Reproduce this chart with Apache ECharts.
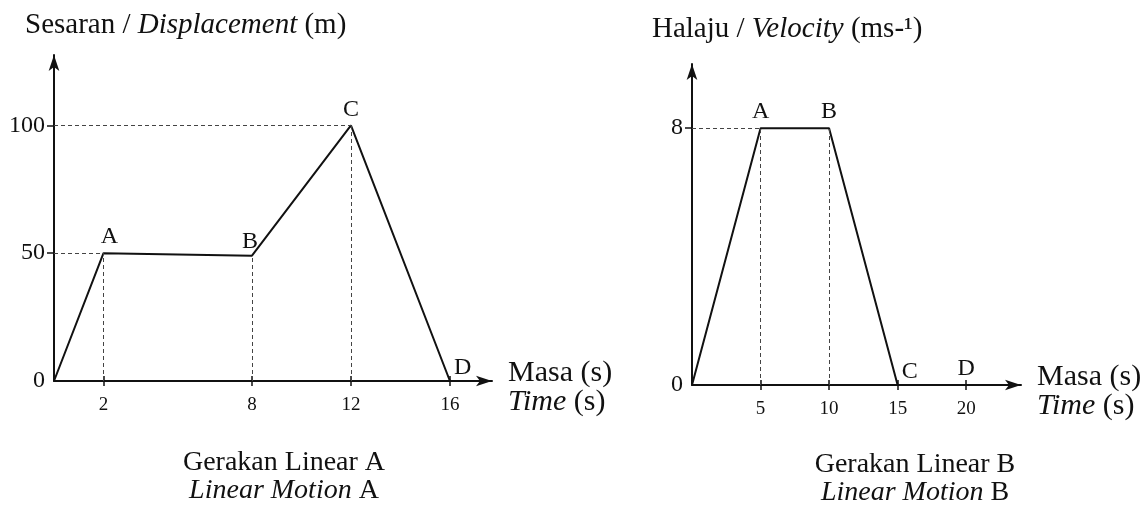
<!DOCTYPE html>
<html>
<head>
<meta charset="utf-8">
<script src="https://cdn.jsdelivr.net/npm/echarts@6/dist/echarts.min.js"></script>
<style>
  html, body { margin: 0; padding: 0; background: #fff; }
  #main { width: 1146px; height: 510px; }
</style>
</head>
<body>
<div id="main"></div>
<script>
// 图A：位移-时间
var timeA = [0, 2, 8, 12, 16];
var dispA = [0, 50, 49, 100, 0];
var pointNamesA = ['', 'A', 'B', 'C', 'D'];
var xTicksA = [2, 8, 12, 16];
var yTicksA = [0, 50, 100];
// 虚线：哪些点画水平线 / 竖线
var hGuideA = [1, 3];
var vGuideA = [1, 2, 3];

// 图B：速度-时间
var timeB = [0, 5, 10, 15, 20];
var veloB = [0, 8, 8, 0, 0];
var pointNamesB = ['', 'A', 'B', 'C', 'D'];
var xTicksB = [5, 10, 15, 20];
var yTicksB = [0, 8];
var hGuideB = [1];
var vGuideB = [1, 2];

(function() {
  var FONT = "'Liberation Serif', 'DejaVu Serif', serif";
  var INK = "#111";

  // 字母标签位置
  var labelPosA = {
    A: { position: "top", offset: [6, 0] },
    B: { position: "top", offset: [-2, 2] },
    C: { position: "top", offset: [0, 0] },
    D: { position: "right", offset: [0, -13] }
  };
  var labelPosB = {
    A: { position: "top", offset: [0, 0] },
    B: { position: "top", offset: [0, 0] },
    C: { position: "right", offset: [0, -13] },
    D: { position: "top", offset: [0, 0] }
  };

  function richSet(size, lh) {
    return {
      n: { fontFamily: FONT, fontSize: size, fontWeight: "normal", color: INK, lineHeight: lh },
      i: { fontFamily: FONT, fontSize: size, fontWeight: "normal", color: INK, lineHeight: lh, fontStyle: "italic" }
    };
  }
  var nameRich = richSet(30, 29);
  var capRich = richSet(28, 28);
  var titleRich = richSet(29, 32);

  function pairs(xs, ys) {
    return xs.map(function(x, i) { return [x, ys[i]]; });
  }

  function guides(xs, ys, hIdx, vIdx) {
    var lines = [];
    hIdx.forEach(function(i) {
      lines.push([{ coord: [0, ys[i]] }, { coord: [xs[i], ys[i]] }]);
    });
    vIdx.forEach(function(i) {
      lines.push([{ coord: [xs[i], 0] }, { coord: [xs[i], ys[i]] }]);
    });
    return lines;
  }

  function pointLabels(xs, ys, names, pos, idx) {
    var data = [];
    names.forEach(function(n, i) {
      if (!n) return;
      data.push({ value: [xs[i], ys[i]], name: n, label: pos[n] });
    });
    return {
      type: "scatter",
      xAxisIndex: idx,
      yAxisIndex: idx,
      symbolSize: 0,
      silent: true,
      itemStyle: { color: INK, opacity: 1 },
      label: {
        show: true, formatter: "{b}", fontFamily: FONT, fontSize: 24, fontWeight: "normal",
        color: INK, textBorderWidth: 0, opacity: 1, distance: 4
      },
      data: data,
      z: 5
    };
  }

  function xAxis(grid, max, ticks) {
    return {
      type: "value",
      gridIndex: grid,
      min: 0,
      max: max,
      position: "bottom",
      splitLine: { show: false },
      axisLine: {
        show: true, onZero: false,
        symbol: ["none", "arrow"], symbolSize: [8, 16],
        lineStyle: { color: INK, width: 2 }
      },
      axisTick: { show: true, customValues: ticks, length: 5, lineStyle: { color: INK, width: 1.5 } },
      axisLabel: { customValues: ticks, fontFamily: FONT, fontSize: 19, color: INK, margin: 15 },
      name: "{n|Masa (s)}\n{i|Time}{n| (s)}",
      nameLocation: "end",
      nameGap: 16,
      nameTextStyle: { align: "left", verticalAlign: "middle", padding: [14, 0, 0, 0], rich: nameRich }
    };
  }

  // 刻度线穿过坐标轴：再叠一条只画向内刻度的轴
  function xTickAxis(grid, max, ticks) {
    return {
      type: "value",
      gridIndex: grid,
      min: 0,
      max: max,
      position: "bottom",
      splitLine: { show: false },
      axisLine: { show: false, onZero: false },
      axisTick: { show: true, inside: true, customValues: ticks, length: 5, lineStyle: { color: INK, width: 1.5 } },
      axisLabel: { show: false }
    };
  }

  function yAxis(grid, max, labels) {
    return {
      type: "value",
      gridIndex: grid,
      min: 0,
      max: max,
      splitLine: { show: false },
      axisLine: {
        show: true, onZero: false,
        symbol: ["none", "arrow"], symbolSize: [8, 16],
        lineStyle: { color: INK, width: 2 }
      },
      axisTick: {
        show: true,
        customValues: labels.filter(function(v) { return v !== 0; }),
        length: 7,
        lineStyle: { color: INK, width: 1.5 }
      },
      axisLabel: { customValues: labels, fontFamily: FONT, fontSize: 24, color: INK, margin: 9 }
    };
  }

  function lineSeries(xs, ys, hIdx, vIdx, idx) {
    return {
      type: "line",
      xAxisIndex: idx,
      yAxisIndex: idx,
      data: pairs(xs, ys),
      symbol: "none",
      lineStyle: { color: INK, width: 2 },
      z: 3,
      markLine: {
        silent: true,
        symbol: ["none", "none"],
        label: { show: false },
        lineStyle: { type: [4, 3], width: 1, color: "#444" },
        data: guides(xs, ys, hIdx, vIdx)
      }
    };
  }

  var myChart = echarts.init(document.getElementById("main"));
  var option = {
    animation: false,
    backgroundColor: "#fff",
    title: [
      { text: "{n|Sesaran / }{i|Displacement}{n| (m)}", left: 20, top: 4, textStyle: { fontWeight: "normal", rich: titleRich } },
      { text: "{n|Halaju / }{i|Velocity}{n| (ms-¹)}", left: 647, top: 8, textStyle: { fontWeight: "normal", rich: titleRich } },
      { text: "{n|Gerakan Linear A}\n{i|Linear Motion}{n| A}", left: 279, top: 444, textAlign: "center", textStyle: { fontWeight: "normal", rich: capRich } },
      { text: "{n|Gerakan Linear B}\n{i|Linear Motion}{n| B}", left: 910, top: 446, textAlign: "center", textStyle: { fontWeight: "normal", rich: capRich } }
    ],
    grid: [
      { left: 54, top: 55, width: 438, height: 326, outerBoundsMode: "none" },
      { left: 692, top: 64, width: 329, height: 321, outerBoundsMode: "none" }
    ],
    xAxis: [
      xAxis(0, 17.7, xTicksA),
      xAxis(1, 24, xTicksB),
      xTickAxis(0, 17.7, xTicksA),
      xTickAxis(1, 24, xTicksB)
    ],
    yAxis: [
      yAxis(0, 127.5, yTicksA),
      yAxis(1, 10, yTicksB)
    ],
    series: [
      lineSeries(timeA, dispA, hGuideA, vGuideA, 0),
      lineSeries(timeB, veloB, hGuideB, vGuideB, 1),
      pointLabels(timeA, dispA, pointNamesA, labelPosA, 0),
      pointLabels(timeB, veloB, pointNamesB, labelPosB, 1)
    ]
  };

  myChart.setOption(option);
  window.addEventListener("resize", function() {
    myChart.resize();
  });
})();
</script>
</body>
</html>
